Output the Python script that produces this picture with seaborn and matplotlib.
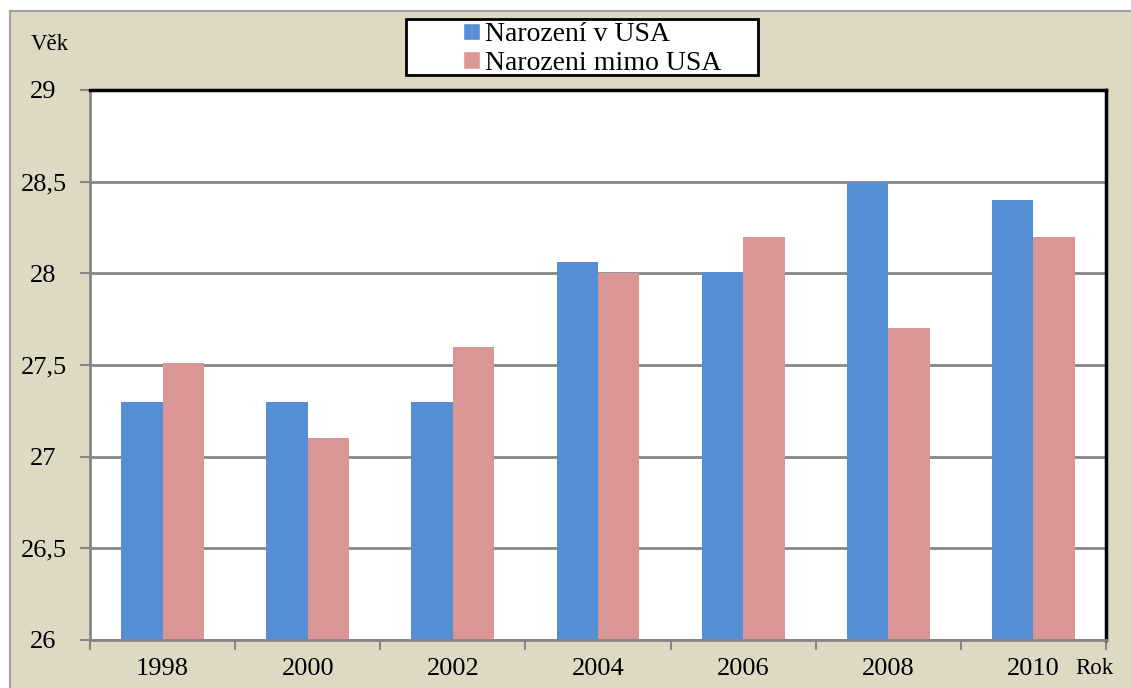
import matplotlib
matplotlib.use("Agg")
import matplotlib.pyplot as plt
import matplotlib.patches as mpatches
from matplotlib.ticker import FixedLocator, FuncFormatter
import pandas as pd
import seaborn as sns

# data
years = ["1998", "2000", "2002", "2004", "2006", "2008", "2010"]
born_usa = [27.3, 27.3, 27.3, 28.06, 28.01, 28.5, 28.4]
born_abroad = [27.51, 27.1, 27.6, 28.0, 28.2, 27.7, 28.2]
series_names = ["Narození v USA", "Narozeni mimo USA"]
y_ticks = [26, 26.5, 27, 27.5, 28, 28.5, 29]

BLUE = "#558ED5"
PINK = "#D99694"
BEIGE = "#DDD9C3"
GRID = "#868686"

df = pd.DataFrame({
    "Rok": years * 2,
    "Vek": born_usa + born_abroad,
    "Serie": [series_names[0]] * len(years) + [series_names[1]] * len(years),
})

sns.set_theme(style="white")
plt.rcParams["font.family"] = ["Liberation Serif", "DejaVu Serif"]
plt.rcParams["text.color"] = "black"
plt.rcParams["xtick.color"] = "black"
plt.rcParams["ytick.color"] = "black"

fig = plt.figure(figsize=(11.31, 6.88), dpi=100, facecolor="white")

# beige chart-area background with thin grey frame
fig.patches.append(mpatches.Rectangle(
    (10 / 1131, -0.01), 1.1, 1 - 11 / 688 + 0.01, transform=fig.transFigure,
    facecolor=BEIGE, edgecolor="#A0A0A0", linewidth=1.5, zorder=-5))

ax = fig.add_axes([90 / 1131, 48 / 688, 1016 / 1131, 550 / 688])
ax.set_facecolor("white")

sns.barplot(data=df, x="Rok", y="Vek", hue="Serie", ax=ax,
            palette=[BLUE, PINK], width=0.57, saturation=1,
            edgecolor="none", legend=False)

ax.set_ylim(26, 29)
ax.set_xlim(-0.5, len(years) - 0.5)
ax.yaxis.set_major_locator(FixedLocator(y_ticks))
ax.yaxis.set_major_formatter(FuncFormatter(lambda v, p: f"{v:g}".replace(".", ",")))
ax.grid(True, axis="y", color=GRID, linewidth=2)
ax.set_axisbelow(True)

ax.set_xlabel("")
ax.set_ylabel("")

ax.tick_params(axis="y", which="major", direction="out", length=7, width=1.5,
               color=GRID, labelcolor="black", labelsize=19, pad=26.5, left=True)
for lab in ax.get_yticklabels():
    lab.set_horizontalalignment("center")
ax.tick_params(axis="x", which="major", length=0, labelsize=19,
               labelcolor="black", pad=13)
ax.set_xticks([i - 0.5 for i in range(len(years) + 1)], minor=True)
ax.tick_params(axis="x", which="minor", direction="out", length=7, width=1.5,
               color=GRID, bottom=True)

for side in ["left", "bottom"]:
    ax.spines[side].set_color(GRID)
    ax.spines[side].set_linewidth(2)
for side in ["top", "right"]:
    ax.spines[side].set_color("black")
    ax.spines[side].set_linewidth(2.5)

# legend box drawn separately so it can be wider than its content
fig.patches.append(mpatches.Rectangle(
    (406 / 1131, 1 - 75 / 688), 352 / 1131, 56 / 688, transform=fig.transFigure,
    facecolor="white", edgecolor="black", linewidth=2, zorder=1))
handles = [mpatches.Patch(facecolor=BLUE, label=series_names[0]),
           mpatches.Patch(facecolor=PINK, label=series_names[1])]
leg = fig.legend(handles=handles, loc="center left",
                 bbox_to_anchor=(449 / 1131, 1 - 49 / 688), frameon=False,
                 fontsize=20, handlelength=0.6, handleheight=0.6,
                 handletextpad=0.2, labelspacing=0.12, borderpad=0)
leg.set_zorder(2)

fig.text(31 / 1131, 1 - 45 / 688, "Věk", fontsize=16.5, va="center", ha="left")
fig.text(1075 / 1131, 1 - 669 / 688, "Rok", fontsize=16.5, va="center", ha="left")

fig.savefig("out.png", dpi=100, facecolor=fig.get_facecolor())
